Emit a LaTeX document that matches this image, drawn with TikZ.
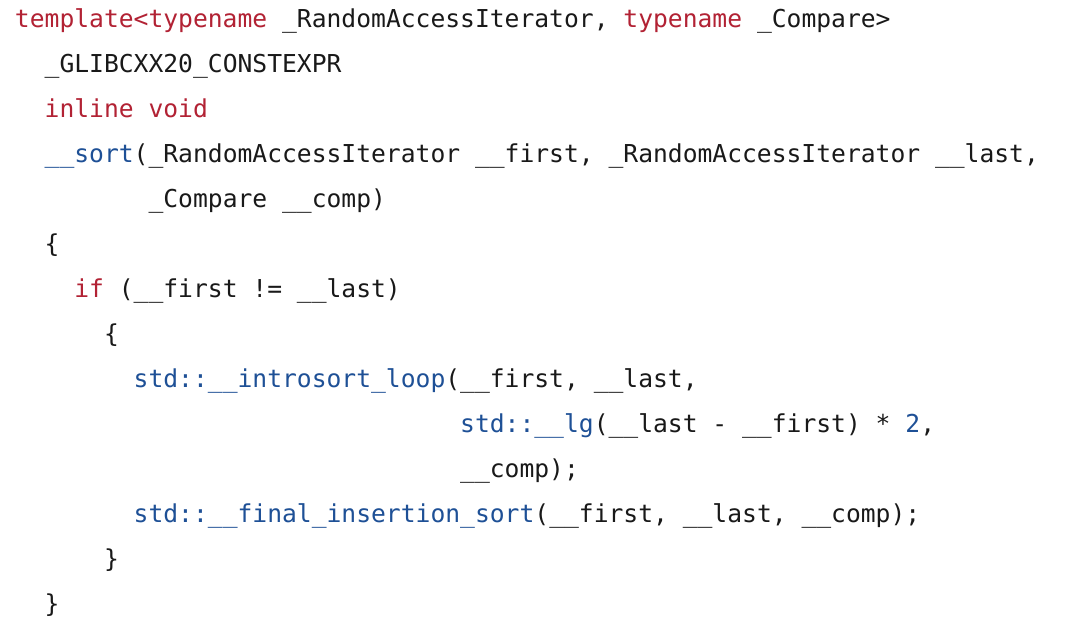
\documentclass[tikz,border=0pt]{standalone}
\usepackage{fontspec}
\setmonofont{DejaVu Sans Mono}
\definecolor{kw}{RGB}{178,34,52}
\definecolor{fn}{RGB}{30,80,150}
\definecolor{tx}{RGB}{25,25,25}
\newcommand{\K}[1]{\textcolor{kw}{#1}}
\newcommand{\F}[1]{\textcolor{fn}{#1}}
\begin{document}
\begin{tikzpicture}[x=1pt,y=1pt,
  codeline/.style={anchor=base west,inner sep=0pt,outer sep=0pt,text=tx,font=\ttfamily\fontsize{24.65}{25}\selectfont}]
\useasboundingbox[fill=white] (0,0) rectangle (1080,-643);
\def\cw{14.84}
\def\lh{45}
\def\by{27}
\node[codeline] (l0) at (15+0*\cw,-\by-0*\lh) {\K{template<typename} \_RandomAccessIterator, \K{typename} \_Compare>};
\node[codeline] (l1) at (15+2*\cw,-\by-1*\lh) {\_GLIBCXX20\_CONSTEXPR};
\node[codeline] (l2) at (15+2*\cw,-\by-2*\lh) {\K{inline} \K{void}};
\node[codeline] (l3) at (15+2*\cw,-\by-3*\lh) {\F{\_\_sort}(\_RandomAccessIterator \_\_first, \_RandomAccessIterator \_\_last,};
\node[codeline] (l4) at (15+9*\cw,-\by-4*\lh) {\_Compare \_\_comp)};
\node[codeline] (l5) at (15+2*\cw,-\by-5*\lh) {\{};
\node[codeline] (l6) at (15+4*\cw,-\by-6*\lh) {\K{if} (\_\_first != \_\_last)};
\node[codeline] (l7) at (15+6*\cw,-\by-7*\lh) {\{};
\node[codeline] (l8) at (15+8*\cw,-\by-8*\lh) {\F{std::\_\_introsort\_loop}(\_\_first, \_\_last,};
\node[codeline] (l9) at (15+30*\cw,-\by-9*\lh) {\F{std::\_\_lg}(\_\_last - \_\_first) * \F{2},};
\node[codeline] (l10) at (15+30*\cw,-\by-10*\lh) {\_\_comp);};
\node[codeline] (l11) at (15+8*\cw,-\by-11*\lh) {\F{std::\_\_final\_insertion\_sort}(\_\_first, \_\_last, \_\_comp);};
\node[codeline] (l12) at (15+6*\cw,-\by-12*\lh) {\}};
\node[codeline] (l13) at (15+2*\cw,-\by-13*\lh) {\}};
\end{tikzpicture}
\end{document}
